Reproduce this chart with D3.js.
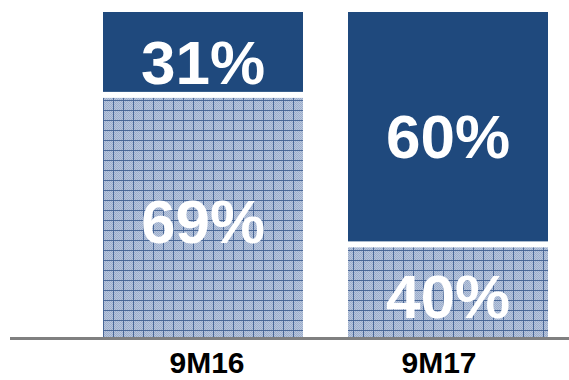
<!DOCTYPE html>
<html>
<head>
<meta charset="utf-8">
<script src="https://cdn.jsdelivr.net/npm/d3@7"></script>
<style>
  html, body { margin: 0; padding: 0; background: #ffffff; }
  svg { display: block; }
</style>
</head>
<body>
<svg id="chart" width="569" height="380"></svg>
<script>
// ---- data ----
const categories = ["9M16", "9M17"];
// share of bar height drawn for each segment
const bottomShare = [74.5, 28.5];   // patterned segment
const topShare = [25.5, 71.5];      // solid segment
const bottomLabels = ["69%", "40%"];
const topLabels = ["31%", "60%"];

// ---- layout ----
const W = 569, H = 380;
const baseY = 337, topY = 12;
const svg = d3.select("#chart");

const x = d3.scaleBand().domain(categories).range([103, 548]).paddingInner(0.1837).paddingOuter(0);
const y = d3.scaleLinear().domain([0, 100]).range([baseY, topY]);
const xLab = d3.scalePoint().domain(categories).range([207, 439]);

const dark = "#1f497d";

// pattern: light blue checker with dark grid lines
const defs = svg.append("defs");
const pat = defs.append("pattern")
  .attr("id", "grid").attr("patternUnits", "userSpaceOnUse")
  .attr("width", 10).attr("height", 10).attr("x", 103).attr("y", 0);
pat.append("rect").attr("width", 10).attr("height", 10).attr("fill", "#9badcc");
for (let i = 0; i < 10; i += 2) {
  for (let j = 0; j < 10; j += 2) {
    pat.append("rect").attr("x", i).attr("y", j).attr("width", 1).attr("height", 1).attr("fill", "#b9c6dc");
    pat.append("rect").attr("x", i + 1).attr("y", j + 1).attr("width", 1).attr("height", 1).attr("fill", "#b9c6dc");
  }
}
pat.append("rect").attr("x", 0).attr("y", 0).attr("width", 10).attr("height", 1).attr("fill", "#4a6898");
pat.append("rect").attr("x", 0).attr("y", 0).attr("width", 1).attr("height", 10).attr("fill", "#4a6898");

const gap = 3;
const data = categories.map((c, i) => ({ c, b: bottomShare[i], t: topShare[i], bl: bottomLabels[i], tl: topLabels[i] }));

// bottom patterned segments
svg.selectAll("rect.bot").data(data).join("rect").attr("class", "bot")
  .attr("x", d => x(d.c)).attr("width", x.bandwidth())
  .attr("y", d => y(d.b) + gap)
  .attr("height", d => y(0) - y(d.b) - gap)
  .attr("fill", "url(#grid)");

// top solid segments
svg.selectAll("rect.top").data(data).join("rect").attr("class", "top")
  .attr("x", d => x(d.c)).attr("width", x.bandwidth())
  .attr("y", d => y(d.b + d.t))
  .attr("height", d => y(d.b) - y(d.b + d.t) - gap)
  .attr("fill", dark);

// baseline
svg.append("line").attr("x1", 10).attr("x2", W).attr("y1", baseY + 1.5).attr("y2", baseY + 1.5)
  .attr("stroke", "#808080").attr("stroke-width", 3);

const font = "'Liberation Sans', Arial, sans-serif";
const fs = 62, capHalf = fs * 0.716 / 2;

// value labels (baseline = visual centre + half cap height)
svg.selectAll("text.bl").data(data).join("text").attr("class", "bl")
  .attr("x", d => x(d.c) + x.bandwidth() / 2)
  .attr("y", d => (y(d.b) + y(0)) / 2 + 5 + capHalf)
  .attr("text-anchor", "middle")
  .attr("font-family", font).attr("font-weight", "bold").attr("font-size", fs)
  .attr("fill", "#ffffff").text(d => d.bl);

svg.selectAll("text.tl").data(data).join("text").attr("class", "tl")
  .attr("x", d => x(d.c) + x.bandwidth() / 2)
  .attr("y", d => (y(d.b + d.t) + y(d.b)) / 2 + 8 + capHalf)
  .attr("text-anchor", "middle")
  .attr("font-family", font).attr("font-weight", "bold").attr("font-size", fs)
  .attr("fill", "#000000" === "" ? "" : "#ffffff").text(d => d.tl);

// category labels
svg.selectAll("text.cat").data(categories).join("text").attr("class", "cat")
  .attr("x", d => xLab(d)).attr("y", 373)
  .attr("text-anchor", "middle")
  .attr("font-family", font).attr("font-weight", "bold").attr("font-size", 30)
  .attr("fill", "#000000").text(d => d);
</script>
</body>
</html>
